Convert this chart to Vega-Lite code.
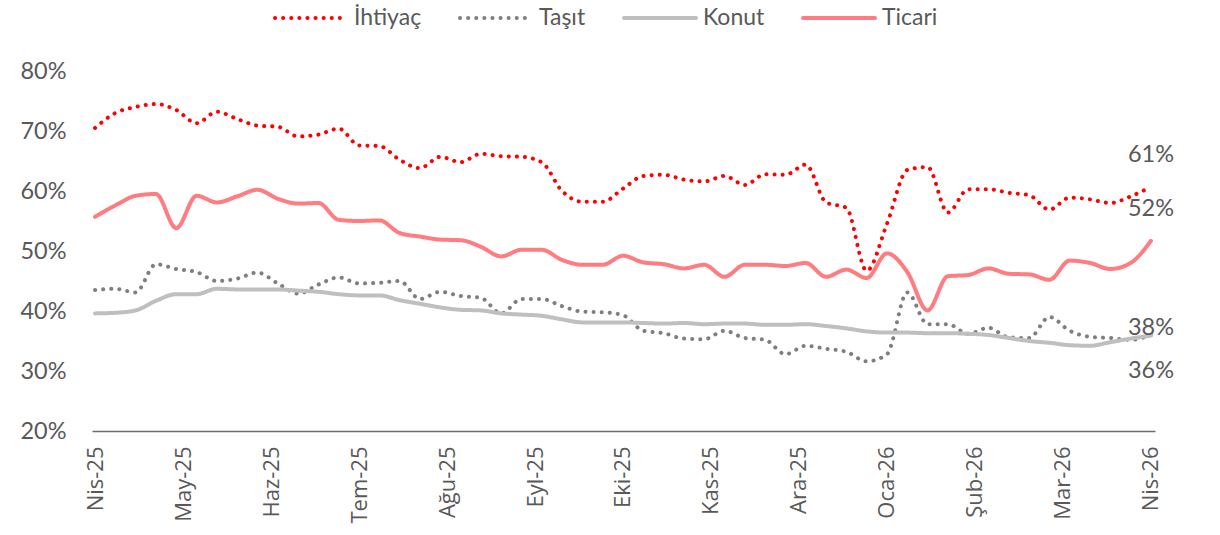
{
  "$schema": "https://vega.github.io/schema/vega-lite/v6.json",
  "width": 1063,
  "height": 360,
  "autosize": {"type": "none"},
  "padding": {"left": 92, "top": 71, "right": 65, "bottom": 104},
  "background": "white",
  "config": {
    "view": {"stroke": null},
    "font": "Lato"
  },
  "datasets": {
    "series": [
      {"w": 0, "İhtiyaç": 70.5, "Taşıt": 43.5, "Konut": 39.6, "Ticari": 55.7},
      {"w": 1, "İhtiyaç": 73.0, "Taşıt": 43.7, "Konut": 39.7, "Ticari": 57.6},
      {"w": 2, "İhtiyaç": 74.0, "Taşıt": 43.1, "Konut": 40.1, "Ticari": 59.2},
      {"w": 3, "İhtiyaç": 74.5, "Taşıt": 47.8, "Konut": 41.7, "Ticari": 59.5},
      {"w": 4, "İhtiyaç": 73.5, "Taşıt": 47.0, "Konut": 42.8, "Ticari": 53.8},
      {"w": 5, "İhtiyaç": 71.3, "Taşıt": 46.5, "Konut": 42.8, "Ticari": 59.2},
      {"w": 6, "İhtiyaç": 73.2, "Taşıt": 45.0, "Konut": 43.7, "Ticari": 58.1},
      {"w": 7, "İhtiyaç": 72.0, "Taşıt": 45.4, "Konut": 43.6, "Ticari": 59.1},
      {"w": 8, "İhtiyaç": 70.9, "Taşıt": 46.4, "Konut": 43.6, "Ticari": 60.2},
      {"w": 9, "İhtiyaç": 70.7, "Taşıt": 44.6, "Konut": 43.6, "Ticari": 58.7},
      {"w": 10, "İhtiyaç": 69.1, "Taşıt": 42.9, "Konut": 43.4, "Ticari": 57.9},
      {"w": 11, "İhtiyaç": 69.4, "Taşıt": 44.4, "Konut": 43.2, "Ticari": 58.0},
      {"w": 12, "İhtiyaç": 70.4, "Taşıt": 45.6, "Konut": 42.8, "Ticari": 55.2},
      {"w": 13, "İhtiyaç": 67.6, "Taşıt": 44.6, "Konut": 42.6, "Ticari": 55.0},
      {"w": 14, "İhtiyaç": 67.5, "Taşıt": 44.7, "Konut": 42.6, "Ticari": 55.1},
      {"w": 15, "İhtiyaç": 65.2, "Taşıt": 45.0, "Konut": 41.8, "Ticari": 53.0},
      {"w": 16, "İhtiyaç": 63.8, "Taşıt": 42.0, "Konut": 41.2, "Ticari": 52.4},
      {"w": 17, "İhtiyaç": 65.7, "Taşıt": 43.2, "Konut": 40.6, "Ticari": 51.9},
      {"w": 18, "İhtiyaç": 64.8, "Taşıt": 42.5, "Konut": 40.2, "Ticari": 51.8},
      {"w": 19, "İhtiyaç": 66.2, "Taşıt": 42.2, "Konut": 40.1, "Ticari": 50.7},
      {"w": 20, "İhtiyaç": 65.8, "Taşıt": 39.6, "Konut": 39.6, "Ticari": 49.1},
      {"w": 21, "İhtiyaç": 65.7, "Taşıt": 42.0, "Konut": 39.4, "Ticari": 50.2},
      {"w": 22, "İhtiyaç": 64.8, "Taşıt": 42.0, "Konut": 39.2, "Ticari": 50.2},
      {"w": 23, "İhtiyaç": 60.0, "Taşıt": 40.8, "Konut": 38.6, "Ticari": 48.5},
      {"w": 24, "İhtiyaç": 58.2, "Taşıt": 39.9, "Konut": 38.1, "Ticari": 47.7},
      {"w": 25, "İhtiyaç": 58.2, "Taşıt": 39.8, "Konut": 38.1, "Ticari": 47.7},
      {"w": 26, "İhtiyaç": 60.4, "Taşıt": 39.3, "Konut": 38.1, "Ticari": 49.2},
      {"w": 27, "İhtiyaç": 62.5, "Taşıt": 36.7, "Konut": 38.0, "Ticari": 48.1},
      {"w": 28, "İhtiyaç": 62.7, "Taşıt": 36.3, "Konut": 37.9, "Ticari": 47.8},
      {"w": 29, "İhtiyaç": 61.9, "Taşıt": 35.4, "Konut": 38.0, "Ticari": 47.1},
      {"w": 30, "İhtiyaç": 61.6, "Taşıt": 35.3, "Konut": 37.8, "Ticari": 47.7},
      {"w": 31, "İhtiyaç": 62.5, "Taşıt": 36.7, "Konut": 37.9, "Ticari": 45.7},
      {"w": 32, "İhtiyaç": 61.0, "Taşıt": 35.5, "Konut": 37.9, "Ticari": 47.7},
      {"w": 33, "İhtiyaç": 62.8, "Taşıt": 35.2, "Konut": 37.7, "Ticari": 47.7},
      {"w": 34, "İhtiyaç": 62.7, "Taşıt": 32.8, "Konut": 37.7, "Ticari": 47.5},
      {"w": 35, "İhtiyaç": 64.4, "Taşıt": 34.2, "Konut": 37.8, "Ticari": 48.0},
      {"w": 36, "İhtiyaç": 58.1, "Taşıt": 33.7, "Konut": 37.5, "Ticari": 45.7},
      {"w": 37, "İhtiyaç": 57.2, "Taşıt": 33.2, "Konut": 37.1, "Ticari": 46.9},
      {"w": 38, "İhtiyaç": 46.7, "Taşıt": 31.6, "Konut": 36.6, "Ticari": 45.5},
      {"w": 39, "İhtiyaç": 54.5, "Taşıt": 32.8, "Konut": 36.4, "Ticari": 49.6},
      {"w": 40, "İhtiyaç": 63.5, "Taşıt": 43.1, "Konut": 36.4, "Ticari": 46.5},
      {"w": 41, "İhtiyaç": 64.0, "Taşıt": 37.8, "Konut": 36.3, "Ticari": 40.1},
      {"w": 42, "İhtiyaç": 56.4, "Taşıt": 37.8, "Konut": 36.3, "Ticari": 45.8},
      {"w": 43, "İhtiyaç": 60.3, "Taşıt": 36.2, "Konut": 36.2, "Ticari": 46.0},
      {"w": 44, "İhtiyaç": 60.3, "Taşıt": 37.2, "Konut": 36.0, "Ticari": 47.1},
      {"w": 45, "İhtiyaç": 59.7, "Taşıt": 35.6, "Konut": 35.5, "Ticari": 46.2},
      {"w": 46, "İhtiyaç": 59.3, "Taşıt": 35.5, "Konut": 35.0, "Ticari": 46.1},
      {"w": 47, "İhtiyaç": 56.9, "Taşıt": 39.0, "Konut": 34.7, "Ticari": 45.2},
      {"w": 48, "İhtiyaç": 58.9, "Taşıt": 36.7, "Konut": 34.3, "Ticari": 48.4},
      {"w": 49, "İhtiyaç": 58.6, "Taşıt": 35.7, "Konut": 34.2, "Ticari": 48.0},
      {"w": 50, "İhtiyaç": 58.0, "Taşıt": 35.5, "Konut": 34.8, "Ticari": 47.0},
      {"w": 51, "İhtiyaç": 59.1, "Taşıt": 35.2, "Konut": 35.4, "Ticari": 48.0},
      {"w": 52, "İhtiyaç": 60.7, "Taşıt": 36.0, "Konut": 35.9, "Ticari": 51.7}
    ],
    "labels": [
      {"w": 52, "s": "İhtiyaç", "v": 60.7, "label": "61%"},
      {"w": 52, "s": "Ticari", "v": 51.7, "label": "52%"},
      {"w": 52, "s": "Konut", "v": 35.9, "label": "38%"},
      {"w": 52, "s": "Taşıt", "v": 36.0, "label": "36%"}
    ]
  },
  "layer": [
    {
      "data": {"name": "series"},
      "transform": [{"fold": ["İhtiyaç", "Taşıt", "Konut", "Ticari"], "as": ["s", "v"]}],
      "mark": {"type": "line", "interpolate": "monotone", "strokeCap": "round", "strokeJoin": "round"},
      "encoding": {
        "x": {
          "field": "w", "type": "quantitative",
          "scale": {"domain": [-0.15, 52.2], "nice": false, "zero": false},
          "axis": {
            "title": null,
            "values": [0, 4.3333, 8.6667, 13, 17.3333, 21.6667, 26, 30.3333, 34.6667, 39, 43.3333, 47.6667, 52],
            "labelExpr": "['Nis-25','May-25','Haz-25','Tem-25','Ağu-25','Eyl-25','Eki-25','Kas-25','Ara-25','Oca-26','Şub-26','Mar-26','Nis-26'][round(datum.value*12/52)]",
            "labelAngle": -90,
            "labelAlign": "right",
            "labelBaseline": "middle",
            "labelPadding": 15,
            "labelFont": "Open Sans",
            "labelFontSize": 22,
            "labelColor": "#595959",
            "labelOverlap": false,
            "labelBound": false,
            "labelFlush": false,
            "ticks": false,
            "grid": false,
            "domainColor": "#6e6e6e",
            "domainWidth": 1.5
          }
        },
        "y": {
          "field": "v", "type": "quantitative",
          "scale": {"domain": [20, 80], "nice": false, "zero": false},
          "axis": {
            "title": null,
            "values": [20, 30, 40, 50, 60, 70, 80],
            "labelExpr": "datum.value + '%'",
            "labelFont": "Lato",
            "labelFontSize": 23.5,
            "labelColor": "#595959",
            "labelPadding": 26,
            "ticks": false,
            "domain": false,
            "grid": false
          }
        },
        "color": {
          "field": "s", "type": "nominal",
          "scale": {"domain": ["İhtiyaç", "Taşıt", "Konut", "Ticari"], "range": ["#FF0000", "#7F7F7F", "#BFBFBF", "#FF7C80"]},
          "legend": {
            "title": null,
            "orient": "none",
            "direction": "horizontal",
            "legendX": 181,
            "legendY": -91,
            "symbolType": "stroke",
            "symbolSize": 5184,
            "symbolStrokeWidth": 3.5,
            "labelFont": "Lato",
            "labelFontSize": 23,
            "labelColor": "#595959",
            "labelOffset": 5,
            "columnPadding": 30,
            "encode": {"symbols": {"update": {"strokeCap": {"value": "round"}}}}
          }
        },
        "strokeDash": {
          "field": "s", "type": "nominal",
          "scale": {"domain": ["İhtiyaç", "Taşıt", "Konut", "Ticari"], "range": [[0.1, 8], [0.1, 8], [1, 0], [1, 0]]},
          "legend": null
        },
        "strokeWidth": {
          "field": "s", "type": "nominal",
          "scale": {"domain": ["İhtiyaç", "Taşıt", "Konut", "Ticari"], "range": [4, 4, 2.6, 3]},
          "legend": null
        }
      }
    },
    {
      "data": {"name": "labels"},
      "transform": [{"filter": "datum.s === 'İhtiyaç' || datum.s === 'Ticari'"}],
      "mark": {"type": "text", "font": "Lato", "fontSize": 23.5, "color": "#595959", "dy": -32, "align": "center", "baseline": "middle"},
      "encoding": {
        "x": {"field": "w", "type": "quantitative"},
        "y": {"field": "v", "type": "quantitative"},
        "text": {"field": "label"}
      }
    },
    {
      "data": {"name": "labels"},
      "transform": [{"filter": "datum.s === 'Konut'"}],
      "mark": {"type": "text", "font": "Lato", "fontSize": 23.5, "color": "#595959", "dy": -8, "align": "center", "baseline": "middle"},
      "encoding": {
        "x": {"field": "w", "type": "quantitative"},
        "y": {"field": "v", "type": "quantitative"},
        "text": {"field": "label"}
      }
    },
    {
      "data": {"name": "labels"},
      "transform": [{"filter": "datum.s === 'Taşıt'"}],
      "mark": {"type": "text", "font": "Lato", "fontSize": 23.5, "color": "#595959", "dy": 36, "align": "center", "baseline": "middle"},
      "encoding": {
        "x": {"field": "w", "type": "quantitative"},
        "y": {"field": "v", "type": "quantitative"},
        "text": {"field": "label"}
      }
    }
  ]
}
